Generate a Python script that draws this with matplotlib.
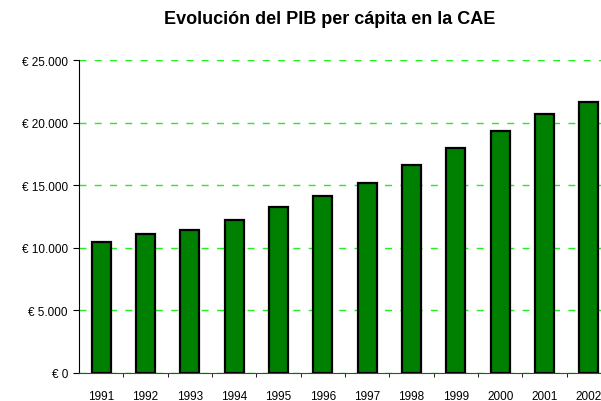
import matplotlib.pyplot as plt
from matplotlib.ticker import FuncFormatter, FixedLocator

plt.rcParams['font.family'] = ['Liberation Sans', 'DejaVu Sans']

years = ['1991', '1992', '1993', '1994', '1995', '1996',
         '1997', '1998', '1999', '2000', '2001', '2002']
pib = [10450, 11080, 11400, 12240, 13260, 14160,
       15150, 16580, 17950, 19350, 20690, 21620]

fig = plt.figure(figsize=(6.01, 4.02), dpi=100)
# axes runs past the right edge, like the original (2002 label is cut)
ax = fig.add_axes([79 / 601, 1 - 374 / 402, 532 / 601, 313 / 402])

x = range(len(years))
ax.bar(x, pib, width=0.43, color='#008000', edgecolor='black',
       linewidth=1.6, zorder=3)

ax.set_xlim(-0.5, len(years) - 0.5)
ax.set_ylim(0, 25000)
ax.set_yticks(range(0, 25001, 5000))
ax.yaxis.set_major_formatter(FuncFormatter(
    lambda v, p: '€ ' + f'{int(v):,}'.replace(',', '.')))
ax.yaxis.grid(True, color='#22ee22', linestyle=(0, (5, 6)), linewidth=1, zorder=0)

ax.set_xticks(list(x))
ax.set_xticklabels(years)
ax.tick_params(axis='x', which='major', length=0, pad=12, labelsize=8.5)
ax.xaxis.set_minor_locator(FixedLocator([i + 0.5 for i in x]))
ax.tick_params(axis='x', which='minor', length=3, direction='out', color='black')
ax.tick_params(axis='y', length=4, direction='out', labelsize=8.5, pad=4)

for s in ['top', 'right']:
    ax.spines[s].set_visible(False)
ax.spines['left'].set_color('black')
ax.spines['bottom'].set_color('#444444')

fig.text(330 / 601, 1 - 20 / 402, 'Evolución del PIB per cápita en la CAE',
         ha='center', va='center', fontsize=13, fontweight='bold')

fig.savefig('out.png', dpi=100)
